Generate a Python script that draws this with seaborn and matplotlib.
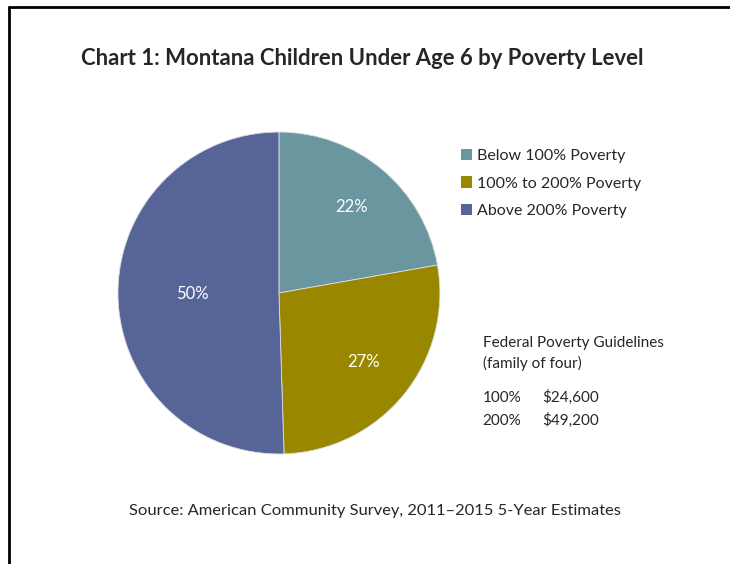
import numpy as np
import pandas as pd
import matplotlib
matplotlib.use('Agg')
import matplotlib.pyplot as plt
import seaborn as sns
from matplotlib.patches import Patch

# data
categories = ['Below 100% Poverty', '100% to 200% Poverty', 'Above 200% Poverty']
shares = [22, 27, 50]
colors = ['#6A96A0', '#9A8700', '#566497']
guide_levels = ['100%', '200%']
guide_amounts = ['$24,600', '$49,200']

sns.set_style('white')
plt.rcParams['font.family'] = ['Lato', 'DejaVu Sans']

fig = plt.figure(figsize=(7.30, 5.64), dpi=100)

# pie axes, centred where the reference pie sits
ax = fig.add_axes([0.1616, 0.195, 0.441, 0.571])
wedges, _ = ax.pie(shares, colors=colors, startangle=90, counterclock=False,
                   wedgeprops=dict(edgecolor='#dddddd', linewidth=0.6))
ax.set_xlim(-1, 1)
ax.set_ylim(-1, 1)
ax.set_aspect('equal')
ax.axis('off')

# percent labels, placed radially inside each wedge
label_dist = [0.70, 0.68, 0.54]
for w, val, d in zip(wedges, shares, label_dist):
    ang = np.deg2rad((w.theta1 + w.theta2) / 2)
    ax.text(d * np.cos(ang), d * np.sin(ang), '{}%'.format(val),
            color='white', fontsize=12, ha='center', va='center')

# frame lines (top and left) like the original clipping
fig.add_artist(plt.Line2D([0.012, 1.0], [0.987, 0.987], color='black', lw=2))
fig.add_artist(plt.Line2D([0.013, 0.013], [0.0, 0.987], color='black', lw=2))

fig.text(0.496, 0.896, 'Chart 1: Montana Children Under Age 6 by Poverty Level',
         ha='center', va='center', fontsize=15.9, fontweight='bold')

handles = [Patch(facecolor=c, edgecolor='none') for c in colors]
fig.legend(handles, categories, loc='upper left', bbox_to_anchor=(0.612, 0.762),
           frameon=False, fontsize=11.5, handlelength=0.7, handleheight=0.7,
           handletextpad=0.3, labelspacing=0.85)

fig.text(0.661, 0.391, 'Federal Poverty Guidelines', fontsize=11, va='center')
fig.text(0.661, 0.356, '(family of four)', fontsize=11, va='center')
for i, (lv, amt) in enumerate(zip(guide_levels, guide_amounts)):
    y = 0.295 - i * 0.041
    fig.text(0.661, y, lv, fontsize=11, va='center')
    fig.text(0.743, y, amt, fontsize=11, va='center')

fig.text(0.514, 0.094, 'Source: American Community Survey, 2011\u20132015 5-Year Estimates',
         ha='center', va='center', fontsize=11.85)

plt.savefig('out.png', dpi=100)
